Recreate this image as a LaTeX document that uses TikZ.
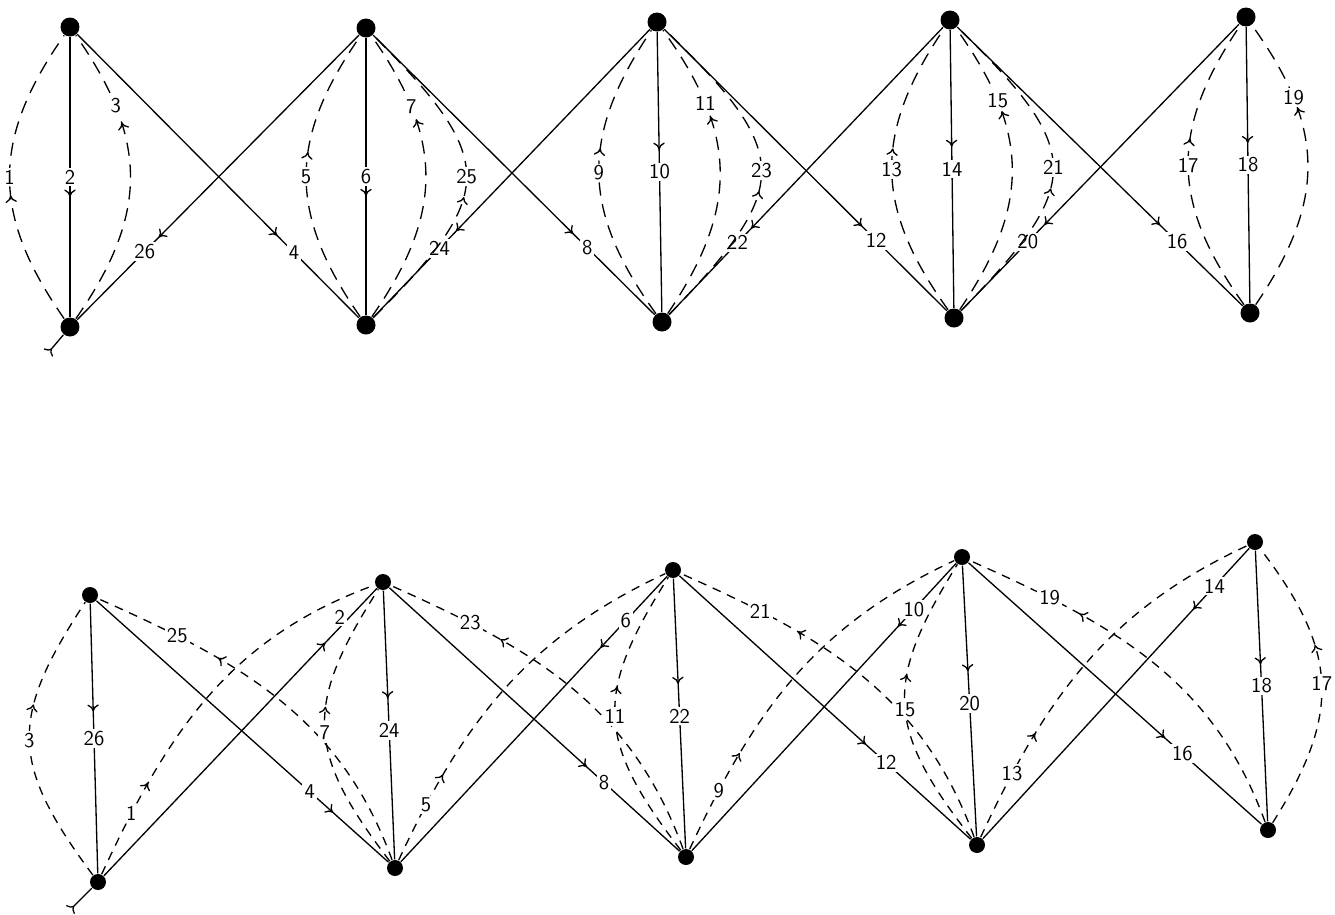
\documentclass[tikz,border=0pt]{standalone}
\usetikzlibrary{decorations.markings,arrows.meta}
\tikzset{
  vtx/.style={circle, fill=black, inner sep=0pt, minimum size=#1},
  vtx/.default=0.38cm,
  lab/.style={fill=white, inner sep=1.2pt, font=\sffamily\fontsize{12}{12}\selectfont},
  arr/.style={postaction={decorate,decoration={markings,mark=at position #1 with {\arrow{>}}}}},
  dsh/.style={dash pattern=on 7.5pt off 5pt},
  dsh2/.style={dash pattern=on 5pt off 4pt},
}
\begin{document}
\begin{tikzpicture}[x=0.02cm, y=0.02cm, line width=0.75pt, >={To[length=4pt,width=6.5pt]}]
\useasboundingbox (0,0) rectangle (1335,-914);

% upper graph
\foreach \n/\x/\y in {1/70/27, 2/366/28, 3/657/22, 4/950/20, 5/1246/17}
  \node[vtx] (t\n) at (\x,-\y) {};
\foreach \n/\x/\y in {1/70/327, 2/366/325, 3/662/322, 4/954/318, 5/1250/313}
  \node[vtx] (b\n) at (\x,-\y) {};
\coordinate (s1) at (48,-353);
\draw[{To[reversed]}-] (s1) -- (b1);

\draw[arr=0.57] (t1) -- node[lab]{2} (b1);
\draw[arr=0.57] (t2) -- node[lab]{6} (b2);
\draw[arr=0.42] (t3) -- node[lab]{10} (b3);
\draw[arr=0.42] (t4) -- node[lab]{14} (b4);
\draw[arr=0.42] (t5) -- node[lab]{18} (b5);
\draw[arr=0.71] (t1) -- node[lab,pos=0.77]{4} (b2);
\draw[arr=0.71] (t2) -- node[lab,pos=0.76]{8} (b3);
\draw[arr=0.70] (t3) -- node[lab,pos=0.75]{12} (b4);
\draw[arr=0.71] (t4) -- node[lab,pos=0.77]{16} (b5);
\draw[arr=0.70] (t5) -- node[lab,pos=0.76]{20} (b4);
\draw[arr=0.70] (t4) -- node[lab,pos=0.75]{22} (b3);
\draw[arr=0.70] (t3) -- node[lab,pos=0.76]{24} (b2);
\draw[arr=0.71] (t2) -- node[lab,pos=0.76]{26} (b1);

\draw[dsh,arr=0.44] (b1) to[bend left=35,looseness=1.15] node[lab]{1} (t1);
\draw[dsh,arr=0.68] (b1) to[bend right=35,looseness=1.15] node[lab,pos=0.76]{3} (t1);
\draw[dsh,arr=0.58] (b2) to[bend left=35,looseness=1.15] node[lab]{5} (t2);
\draw[dsh,arr=0.69] (b2) to[bend right=35,looseness=1.15] node[lab,pos=0.76]{7} (t2);
\draw[dsh,arr=0.44] (b2) to[bend right=45,looseness=1.6] node[lab]{25} (t2);
\draw[dsh,arr=0.58] (b3) to[bend left=35,looseness=1.15] node[lab]{9} (t3);
\draw[dsh,arr=0.68] (b3) to[bend right=35,looseness=1.15] node[lab,pos=0.75]{11} (t3);
\draw[dsh,arr=0.44] (b3) to[bend right=45,looseness=1.6] node[lab]{23} (t3);
\draw[dsh,arr=0.57] (b4) to[bend left=35,looseness=1.15] node[lab]{13} (t4);
\draw[dsh,arr=0.69] (b4) to[bend right=35,looseness=1.15] node[lab,pos=0.75]{15} (t4);
\draw[dsh,arr=0.44] (b4) to[bend right=45,looseness=1.6] node[lab]{21} (t4);
\draw[dsh,arr=0.59] (b5) to[bend left=35,looseness=1.15] node[lab]{17} (t5);
\draw[dsh,arr=0.69] (b5) to[bend right=35,looseness=1.15] node[lab,pos=0.75]{19} (t5);

% lower graph
\foreach \n/\x/\y in {1/90/595, 2/383/582, 3/673/570, 4/962/557, 5/1255/542}
  \node[vtx=0.32cm] (u\n) at (\x,-\y) {};
\foreach \n/\x/\y in {1/98/882, 2/395/868, 3/686/857, 4/977/845, 5/1268/830}
  \node[vtx=0.32cm] (l\n) at (\x,-\y) {};
\coordinate (s2) at (70,-910);
\draw[{To[reversed]}-] (s2) -- (l1);

\draw[arr=0.4] (u1) -- node[lab]{26} (l1);
\draw[arr=0.4] (u2) -- node[lab,pos=0.52]{24} (l2);
\draw[arr=0.39] (u3) -- node[lab,pos=0.51]{22} (l3);
\draw[arr=0.39] (u4) -- node[lab,pos=0.51]{20} (l4);
\draw[arr=0.42] (u5) -- node[lab]{18} (l5);
\draw[arr=0.81] (u1) -- node[lab,pos=0.73]{4} (l2);
\draw[arr=0.68] (u2) -- node[lab,pos=0.74]{8} (l3);
\draw[arr=0.64] (u3) -- node[lab,pos=0.71]{12} (l4);
\draw[arr=0.67] (u4) -- node[lab,pos=0.73]{16} (l5);
\draw[arr=0.81] (l1) -- node[lab,pos=0.9,xshift=-0.2cm]{2} (u2);
\draw[arr=0.25] (u3) -- node[lab,pos=0.155]{6} (l2);
\draw[arr=0.22] (u4) -- node[lab,pos=0.16]{10} (l3);
\draw[arr=0.21] (u5) -- node[lab,pos=0.13]{14} (l4);

\draw[dsh2,arr=0.25] (l1) to[out=65,in=200] node[lab,pos=0.15]{1} (u2);
\draw[dsh2,arr=0.24] (l2) to[out=65,in=205] node[lab,pos=0.14]{5} (u3);
\draw[dsh2,arr=0.27] (l3) to[out=65,in=205] node[lab,pos=0.15]{9} (u4);
\draw[dsh2,arr=0.29] (l4) to[out=65,in=205] node[lab,pos=0.16]{13} (u5);
\draw[dsh2,arr=0.67] (l2) to[out=110,in=-24] node[lab,pos=0.8]{25} (u1);
\draw[dsh2,arr=0.7] (l3) to[out=110,in=-24] node[lab,pos=0.8]{23} (u2);
\draw[dsh2,arr=0.68] (l4) to[out=110,in=-24] node[lab,pos=0.8]{21} (u3);
\draw[dsh2,arr=0.7] (l5) to[out=110,in=-24] node[lab,pos=0.8]{19} (u4);
\draw[dsh2,arr=0.62] (l1) to[bend left=35,looseness=1.3] node[lab]{3} (u1);
\draw[dsh2,arr=0.57] (l2) to[bend left=35,looseness=1.3] node[lab,pos=0.48]{7} (u2);
\draw[dsh2,arr=0.6] (l3) to[bend left=35,looseness=1.3] node[lab]{11} (u3);
\draw[dsh2,arr=0.6] (l4) to[bend left=35,looseness=1.3] node[lab,pos=0.48]{15} (u4);
\draw[dsh2,arr=0.63] (l5) to[bend right=35,looseness=1.2] node[lab]{17} (u5);
\end{tikzpicture}
\end{document}
